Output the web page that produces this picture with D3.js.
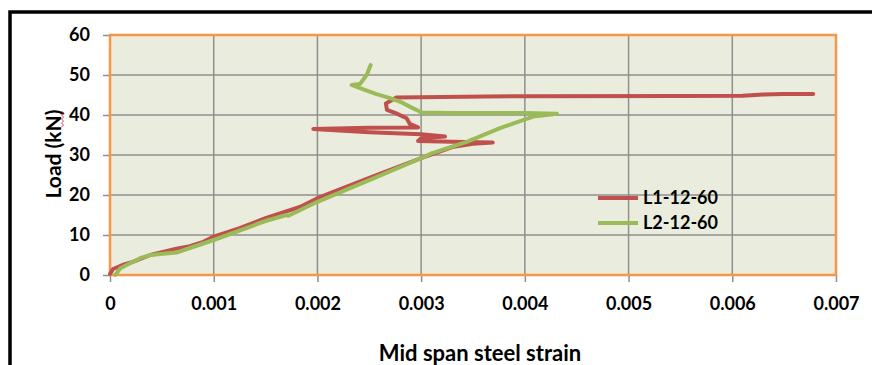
<!DOCTYPE html>
<html><head><meta charset="utf-8">
<script src="https://cdn.jsdelivr.net/npm/d3@7"></script>
<style>body{margin:0;background:#fff}svg{display:block}</style>
</head><body>
<svg id="c" width="872" height="365"></svg>
<script>
const seriesNames = ["L1-12-60", "L2-12-60"];
const seriesColors = ["#C0504D", "#9BBB59"];
const l1Strain = [0, 0.00003, 0.00012, 0.00022, 0.00039, 0.00064, 0.00077, 0.0009, 0.001, 0.00125, 0.0015, 0.00183, 0.002, 0.0025, 0.003, 0.0033, 0.0035, 0.00369, 0.0033, 0.00297, 0.003, 0.00323, 0.003, 0.0025, 0.00196, 0.0025, 0.00297, 0.00289, 0.00286, 0.00276, 0.00267, 0.00266, 0.00276, 0.0040, 0.0055, 0.0061, 0.0063, 0.0065, 0.00678];
const l1Load = [0.3, 1.5, 2.5, 3.3, 5.0, 6.6, 7.2, 8.3, 9.6, 11.7, 14.2, 17.0, 19.2, 24.3, 29.2, 32.0, 32.8, 33.1, 33.3, 33.5, 34.2, 34.6, 35.2, 35.7, 36.5, 36.8, 36.9, 37.8, 39.2, 40.4, 41.3, 42.9, 44.4, 44.7, 44.75, 44.8, 45.1, 45.25, 45.25];
const l2Strain = [0.00005, 0.0001, 0.00029, 0.00039, 0.00064, 0.0008, 0.001, 0.0015, 0.0017, 0.00172, 0.002, 0.0025, 0.003, 0.0031, 0.00344, 0.00376, 0.00408, 0.00431, 0.0040, 0.0033, 0.003, 0.00299, 0.00289, 0.0028, 0.0027, 0.00257, 0.00241, 0.00233, 0.00241, 0.002475, 0.002513];
const l2Load = [0, 1.7, 4.2, 5.0, 5.6, 7.0, 8.75, 13.5, 15.0, 14.8, 18.3, 23.7, 29.2, 30.4, 33.3, 36.7, 39.6, 40.3, 40.5, 40.5, 40.6, 40.8, 42.1, 43.3, 44.2, 45.2, 46.7, 47.5, 47.75, 50, 52.5];
const xTicks = [0, 0.001, 0.002, 0.003, 0.004, 0.005, 0.006, 0.007];
const yTicks = [0, 10, 20, 30, 40, 50, 60];
const xTitle = "Mid span steel strain";
const yTitle = "Load (kN)";

const svg = d3.select("#c");
const L = 110, R = 836, T = 35, B = 275;
const x = d3.scaleLinear().domain([0, 0.007]).range([L, R]);
const y = d3.scaleLinear().domain([0, 60]).range([B, T]);
const font = "Lato, 'Liberation Sans', sans-serif";

// outer chart border
svg.append("path").attr("d", `M10,365 V12 H875`).attr("fill", "none").attr("stroke", "#000").attr("stroke-width", 3.5);

svg.append("rect").attr("x", L).attr("y", T).attr("width", R - L).attr("height", B - T).attr("fill", "#EAEDDD");

// grid
svg.append("g").selectAll("line").data(xTicks.slice(1, -1)).join("line")
  .attr("x1", d => x(d)).attr("x2", d => x(d)).attr("y1", T).attr("y2", B)
  .attr("stroke", "#8f8f8f").attr("stroke-width", 1.5);
svg.append("g").selectAll("line").data(yTicks.slice(1, -1)).join("line")
  .attr("y1", d => y(d)).attr("y2", d => y(d)).attr("x1", L).attr("x2", R)
  .attr("stroke", "#8f8f8f").attr("stroke-width", 1.5);

// axes
const xAxis = svg.append("g").attr("transform", `translate(0,${B})`)
  .call(d3.axisBottom(x).tickValues(xTicks).tickFormat(d => d === 0 ? "0" : d3.format(".3f")(d)).tickSize(7).tickPadding(19));
const yAxis = svg.append("g").attr("transform", `translate(${L},0)`)
  .call(d3.axisLeft(y).tickValues(yTicks).tickSize(7).tickPadding(13));
[xAxis, yAxis].forEach(g => {
  g.select(".domain").remove();
  g.selectAll(".tick line").attr("stroke", "#8f8f8f").attr("stroke-width", 1.5);
  g.selectAll("text").attr("font-family", font).attr("font-weight", "bold").attr("font-size", 18).attr("fill", "#000");
});
xAxis.selectAll("text").attr("dy", "0.35em").attr("y", 29);

// plot border
svg.append("rect").attr("x", L).attr("y", T).attr("width", R - L).attr("height", B - T)
  .attr("fill", "none").attr("stroke", "#F79646").attr("stroke-width", 2.5);

// lines
const line = d3.line().x(d => x(d[0])).y(d => y(d[1])).curve(d3.curveLinear);
const data = [d3.zip(l1Strain, l1Load), d3.zip(l2Strain, l2Load)];
data.forEach((d, i) => {
  svg.append("path").datum(d).attr("d", line).attr("fill", "none")
    .attr("stroke", seriesColors[i]).attr("stroke-width", 4).attr("stroke-linejoin", "round").attr("stroke-linecap", "round");
});

// legend
const lg = svg.append("g");
seriesNames.forEach((n, i) => {
  const yy = 198 + i * 25;
  lg.append("line").attr("x1", 598).attr("x2", 638).attr("y1", yy).attr("y2", yy)
    .attr("stroke", seriesColors[i]).attr("stroke-width", 4);
  lg.append("text").attr("x", 643).attr("y", yy).attr("dy", "0.35em").text(n)
    .attr("font-family", font).attr("font-weight", "bold").attr("font-size", 18);
});

// titles
svg.append("text").attr("x", 480).attr("y", 353).attr("dy", "0.35em").attr("text-anchor", "middle")
  .attr("font-family", font).attr("font-weight", "bold").attr("font-size", 22).text(xTitle);
svg.append("text").attr("transform", "translate(54,154) rotate(-90)").attr("dy", "0.35em").attr("text-anchor", "middle")
  .attr("font-family", font).attr("font-weight", "bold").attr("font-size", 21).text(yTitle);
// spell-check squiggle under "kN"
const sq = d3.range(0, 9).map(i => [i % 2 ? 63.5 : 61.5, 111 + i * 2]);
svg.append("path").attr("d", d3.line()(sq)).attr("fill", "none").attr("stroke", "#e03030").attr("stroke-width", 0.9);
</script>
</body></html>
